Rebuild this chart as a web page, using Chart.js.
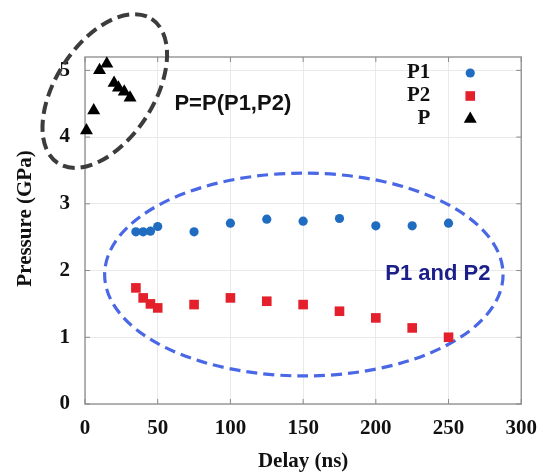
<!DOCTYPE html>
<html>
<head>
<meta charset="utf-8">
<script src="https://cdn.jsdelivr.net/npm/chart.js@4.4.1/dist/chart.umd.min.js"></script>
<style>
  html, body { margin: 0; padding: 0; background: #fff; }
  #wrap { width: 549px; height: 472px; }
</style>
</head>
<body>
<div id="wrap"><canvas id="myChart"></canvas></div>
<script>
// values
const delayP12 = [35, 40, 45, 50, 75, 100, 125, 150, 175, 200, 225, 250];
const p1Values = [2.58, 2.58, 2.59, 2.66, 2.58, 2.71, 2.77, 2.74, 2.78, 2.67, 2.67, 2.71];
const p2Values = [1.74, 1.59, 1.50, 1.44, 1.49, 1.59, 1.54, 1.49, 1.39, 1.29, 1.14, 1.00];
const delayP = [1, 6, 10, 15, 20, 23, 27, 31];
const pValues = [4.10, 4.40, 5.00, 5.10, 4.81, 4.74, 4.68, 4.59];
const xTicks = [0, 50, 100, 150, 200, 250, 300];
const yTicks = [0, 1, 2, 3, 4, 5];
const yTitle = 'Pressure (GPa)';

const serif = '"Liberation Serif", "Times New Roman", serif';
const sans = '"Liberation Sans", Arial, sans-serif';

const toPoints = (xs, ys) => xs.map((x, i) => ({ x: x, y: ys[i] }));

// annotation ellipses (centre in data units)
const groupEllipses = [
    { cx: 13.6, cy: 4.69, rxPx: 86, ryPx: 49, rot: -57, color: '#3c3c3c', width: 4, dash: [12, 6] },
    { cx: 150.5, cy: 1.94, rx: 137, ry: 1.52, rot: 0, color: '#4a68e6', width: 3.2, dash: [11, 6] }
];
const notes = [
    { x: 61.5, y: 4.49, text: 'P=P(P1,P2)', color: '#111', font: 'bold 22px ' + sans },
    { x: 206.5, y: 1.955, text: 'P1 and P2', color: '#1c1f8a', font: 'bold 22px ' + sans }
];

const annotations = {
    id: 'annotations',
    beforeDatasetsDraw(chart) {
        const { ctx, scales: { x, y } } = chart;
        ctx.save();
        groupEllipses.forEach(e => {
            const cx = x.getPixelForValue(e.cx);
            const cy = y.getPixelForValue(e.cy);
            const rx = e.rxPx || Math.abs(x.getPixelForValue(e.cx + e.rx) - cx);
            const ry = e.ryPx || Math.abs(y.getPixelForValue(e.cy + e.ry) - cy);
            ctx.beginPath();
            ctx.setLineDash(e.dash);
            ctx.lineWidth = e.width;
            ctx.strokeStyle = e.color;
            ctx.ellipse(cx, cy, rx, ry, e.rot * Math.PI / 180, 0, Math.PI * 2);
            ctx.stroke();
        });
        ctx.setLineDash([]);
        notes.forEach(n => {
            ctx.font = n.font;
            ctx.fillStyle = n.color;
            ctx.textAlign = 'left';
            ctx.textBaseline = 'middle';
            ctx.fillText(n.text, x.getPixelForValue(n.x), y.getPixelForValue(n.y));
        });
        ctx.restore();
    }
};

const frame = {
    id: 'frame',
    beforeDatasetsDraw(chart) {
        const { ctx, chartArea: a, scales: { x, y } } = chart;
        ctx.save();
        ctx.strokeStyle = '#9a9a9a';
        ctx.lineWidth = 1.5;
        ctx.strokeRect(a.left, a.top, a.right - a.left, a.bottom - a.top);
        ctx.lineWidth = 1;
        ctx.strokeStyle = '#8a8a8a';
        ctx.beginPath();
        x.ticks.forEach(t => {
            const px = x.getPixelForValue(t.value);
            ctx.moveTo(px, a.bottom); ctx.lineTo(px, a.bottom - 5);
            ctx.moveTo(px, a.top); ctx.lineTo(px, a.top + 5);
        });
        y.ticks.forEach(t => {
            const py = y.getPixelForValue(t.value);
            ctx.moveTo(a.left, py); ctx.lineTo(a.left + 5, py);
            ctx.moveTo(a.right, py); ctx.lineTo(a.right - 5, py);
        });
        ctx.stroke();
        // y axis title, sitting a little above the middle as in the original
        ctx.translate(26, (a.top + a.bottom) / 2 - 12);
        ctx.rotate(-Math.PI / 2);
        ctx.font = 'bold 21px ' + serif;
        ctx.fillStyle = '#111';
        ctx.textAlign = 'center';
        ctx.textBaseline = 'middle';
        ctx.fillText(yTitle, 0, 0);
        ctx.restore();
    }
};

const sideLegend = {
    id: 'sideLegend',
    afterDraw(chart) {
        const { ctx, chartArea: a } = chart;
        ctx.save();
        chart.data.datasets.forEach((ds, i) => {
            const rowY = a.top + 16 + i * 23;
            ctx.font = 'bold 21px ' + serif;
            ctx.fillStyle = '#111';
            ctx.textAlign = 'right';
            ctx.textBaseline = 'middle';
            ctx.fillText(ds.label, a.right - 91, rowY);
            ctx.fillStyle = ds.backgroundColor;
            ctx.strokeStyle = ds.borderColor;
            ctx.lineWidth = 0;
            Chart.helpers.drawPoint(ctx, {
                pointStyle: ds.pointStyle,
                radius: ds.pointRadius,
                rotation: 0,
                borderWidth: 0
            }, a.right - 51, rowY);
        });
        ctx.restore();
    }
};

const ctx = document.getElementById('myChart').getContext('2d');
const chart = new Chart(ctx, {
    type: 'scatter',
    data: {
        datasets: [{
            label: 'P1',
            data: toPoints(delayP12, p1Values),
            pointStyle: 'circle',
            pointRadius: 4.6,
            backgroundColor: '#1f6cc0',
            borderColor: '#1f6cc0',
            borderWidth: 0,
            clip: false
        }, {
            label: 'P2',
            data: toPoints(delayP12, p2Values),
            pointStyle: 'rect',
            pointRadius: 6.8,
            backgroundColor: '#e3202b',
            borderColor: '#e3202b',
            borderWidth: 0,
            clip: false
        }, {
            label: 'P',
            data: toPoints(delayP, pValues),
            pointStyle: 'triangle',
            pointRadius: 7.5,
            backgroundColor: '#000',
            borderColor: '#000',
            borderWidth: 0,
            clip: false
        }]
    },
    options: {
        responsive: true,
        maintainAspectRatio: false,
        animation: false,
        events: [],
        layout: { padding: { top: 57, right: 23, left: 0, bottom: 0 } },
        plugins: {
            legend: { display: false },
            tooltip: { enabled: false }
        },
        scales: {
            x: {
                type: 'linear',
                position: 'bottom',
                min: 0,
                max: 300,
                afterBuildTicks: scale => { scale.ticks = xTicks.map(v => ({ value: v })); },
                afterFit: scale => { scale.height = 68; },
                grid: { color: '#e9e9e9', drawTicks: false },
                border: { display: false },
                ticks: {
                    padding: 12,
                    color: '#111',
                    font: { family: serif, size: 21, weight: 'bold' }
                },
                title: {
                    display: true,
                    text: 'Delay (ns)',
                    color: '#111',
                    padding: { top: 0, bottom: 0 },
                    font: { family: serif, size: 21, weight: 'bold', lineHeight: 1 }
                }
            },
            y: {
                type: 'linear',
                min: 0,
                max: 5.2,
                afterBuildTicks: scale => { scale.ticks = yTicks.map(v => ({ value: v })); },
                afterFit: scale => { scale.width = 85; },
                grid: { color: '#e9e9e9', drawTicks: false },
                border: { display: false },
                ticks: {
                    padding: 15,
                    color: '#111',
                    font: { family: serif, size: 21, weight: 'bold' }
                }
            }
        }
    },
    plugins: [frame, annotations, sideLegend]
});
</script>
</body>
</html>
